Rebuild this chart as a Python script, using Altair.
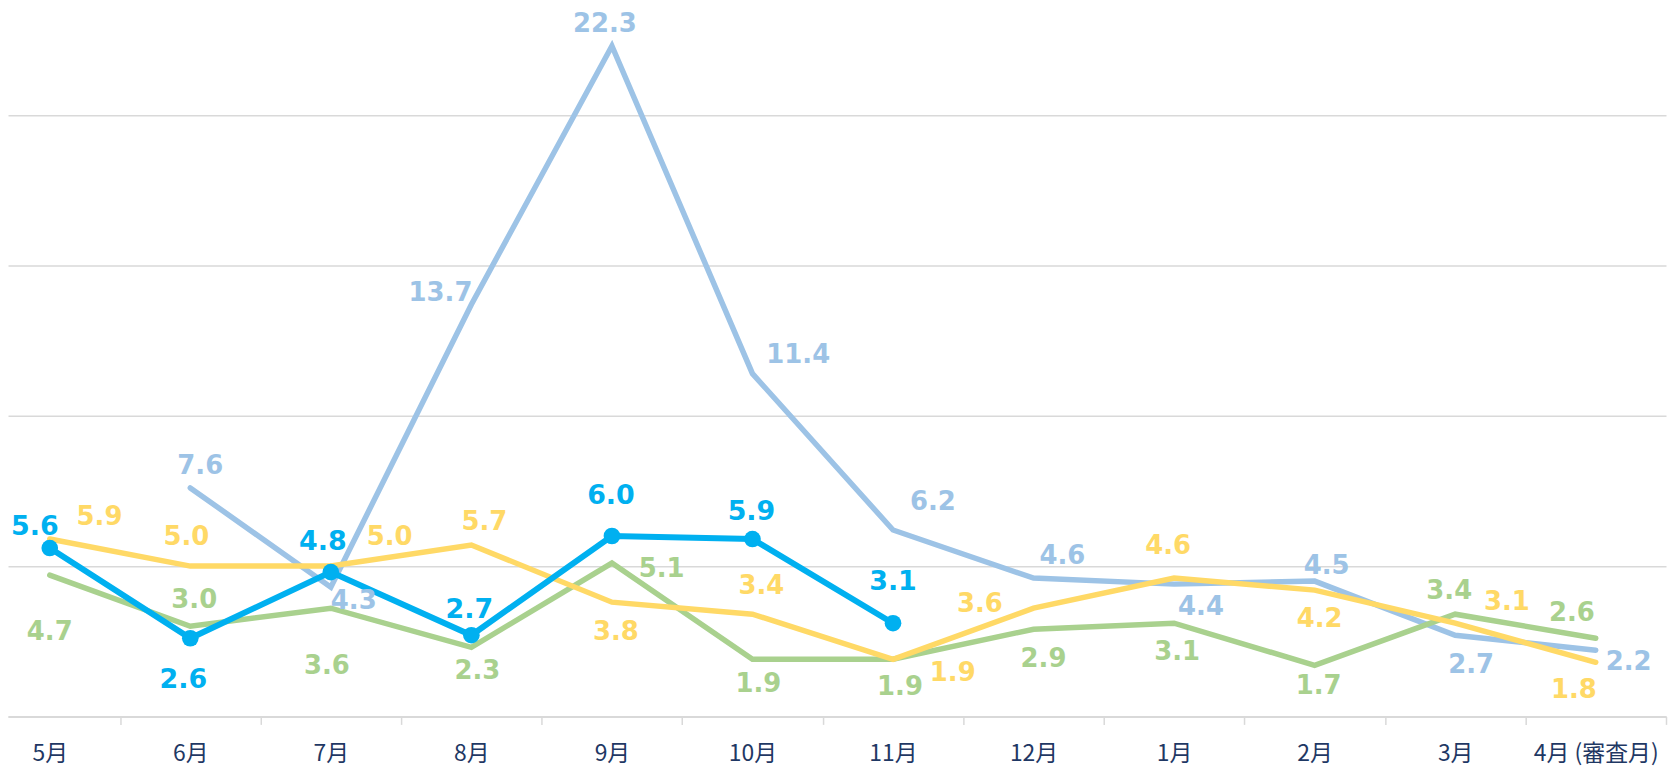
import json
import altair as alt
import pandas as pd

months = ["5月", "6月", "7月", "8月", "9月", "10月", "11月", "12月", "1月", "2月", "3月", "4月 (審査月)"]

blue_vals = [5.6, 2.6, 4.8, 2.7, 6.0, 5.9, 3.1, None, None, None, None, None]
lightblue_vals = [None, 7.6, 4.3, 13.7, 22.3, 11.4, 6.2, 4.6, 4.4, 4.5, 2.7, 2.2]
yellow_vals = [5.9, 5.0, 5.0, 5.7, 3.8, 3.4, 1.9, 3.6, 4.6, 4.2, 3.1, 1.8]
green_vals = [4.7, 3.0, 3.6, 2.3, 5.1, 1.9, 1.9, 2.9, 3.1, 1.7, 3.4, 2.6]

# label offsets in pixels (dx, dy) relative to each point
blue_off = [(-15, -21), (-7, 42), (-8, -30), (-2, -25), (-1, -40), (-1, -27), (0, -41),
            None, None, None, None, None]
lightblue_off = [None, (10, -22), (23, 14), (-31, -12), (-7, -22), (46, -19), (40, -28),
                 (29, -22), (27, 23), (12, -15), (16, 30), (33, 12)]
yellow_off = [(50, -22), (-4, -29), (59, -29), (13, -23), (4, 30), (9, -28), (60, 14),
              (-54, -4), (-6, -32), (5, 29), (52, -21), (-22, 28)]
green_off = [(0, 57), (4, -26), (-4, 58), (6, 24), (50, 6), (6, 25), (7, 28),
             (10, 30), (3, 29), (4, 21), (-6, -23), (-24, -25)]

W, H = 1666, 710
XMIN, XMAX = -0.297, 11.5
YMAX = 23.5
PX_X = W / (XMAX - XMIN)
PX_Y = H / YMAX


def frame(name, vals, offs):
    rows = []
    for i, (v, o) in enumerate(zip(vals, offs)):
        if v is None:
            continue
        rows.append({
            "series": name, "idx": i, "value": v, "label": f"{v:.1f}",
            "lx": i + o[0] / PX_X, "ly": v - o[1] / PX_Y,
        })
    return pd.DataFrame(rows)


xscale = alt.Scale(domain=[XMIN, XMAX], nice=False, zero=False)
yscale = alt.Scale(domain=[0, YMAX], nice=False, zero=True)

tick_vals = [i for i in range(12)] + [i + 0.5 for i in range(12)]
label_expr = "datum.value % 1 === 0 ? " + json.dumps(months, ensure_ascii=False) + "[datum.value] : ''"

xaxis = alt.Axis(
    values=tick_vals, labelExpr=label_expr, title=None, grid=False,
    ticks=True, tickSize=8, tickColor="#d9d9d9", tickWidth=1.5,
    tickOpacity={"condition": {"test": "datum.value % 1 === 0", "value": 0}, "value": 1},
    domain=True, domainColor="#d9d9d9", domainWidth=2,
    labelFont="Noto Sans CJK JP", labelFontSize=23, labelColor="#1F3864",
    labelPadding=18, labelOverlap=False, labelFlush=False, labelBound=False,
)
yaxis = alt.Axis(
    values=[0, 5, 10, 15, 20], grid=True, gridColor="#d9d9d9", gridWidth=1.5,
    labels=False, ticks=False, domain=False, title=None,
)


def line_layer(df, color, width):
    return alt.Chart(df).mark_line(color=color, strokeWidth=width, strokeCap="round").encode(
        x=alt.X("idx:Q", scale=xscale, axis=xaxis),
        y=alt.Y("value:Q", scale=yscale, axis=yaxis),
    )


def text_layer(df, color, size):
    return alt.Chart(df).mark_text(
        color=color, font="DejaVu Sans", fontWeight="bold", fontSize=size,
        align="center", baseline="middle",
    ).encode(
        x=alt.X("lx:Q", scale=xscale, axis=xaxis),
        y=alt.Y("ly:Q", scale=yscale, axis=yaxis),
        text="label:N",
    )


C_BLUE, C_LB, C_Y, C_G = "#00B0F0", "#9DC3E6", "#FFD966", "#A9D18E"

df_b = frame("blue", blue_vals, blue_off)
df_lb = frame("lightblue", lightblue_vals, lightblue_off)
df_y = frame("yellow", yellow_vals, yellow_off)
df_g = frame("green", green_vals, green_off)

points = alt.Chart(df_b).mark_circle(color=C_BLUE, size=280, opacity=1).encode(
    x=alt.X("idx:Q", scale=xscale, axis=xaxis),
    y=alt.Y("value:Q", scale=yscale, axis=yaxis),
)

chart = alt.layer(
    line_layer(df_lb, C_LB, 5.5),
    line_layer(df_g, C_G, 5.5),
    line_layer(df_y, C_Y, 5.5),
    line_layer(df_b, C_BLUE, 6),
    points,
    text_layer(df_lb, C_LB, 26),
    text_layer(df_g, C_G, 26),
    text_layer(df_y, C_Y, 26),
    text_layer(df_b, C_BLUE, 27),
).properties(
    width=W, height=H,
    background="white",
    autosize=alt.AutoSizeParams(type="none"),
    padding={"left": 0, "top": 0, "right": 2, "bottom": 51},
).configure_view(stroke=None, strokeWidth=0)

chart.save("out.html", embed_options={"renderer": "svg", "actions": False})
